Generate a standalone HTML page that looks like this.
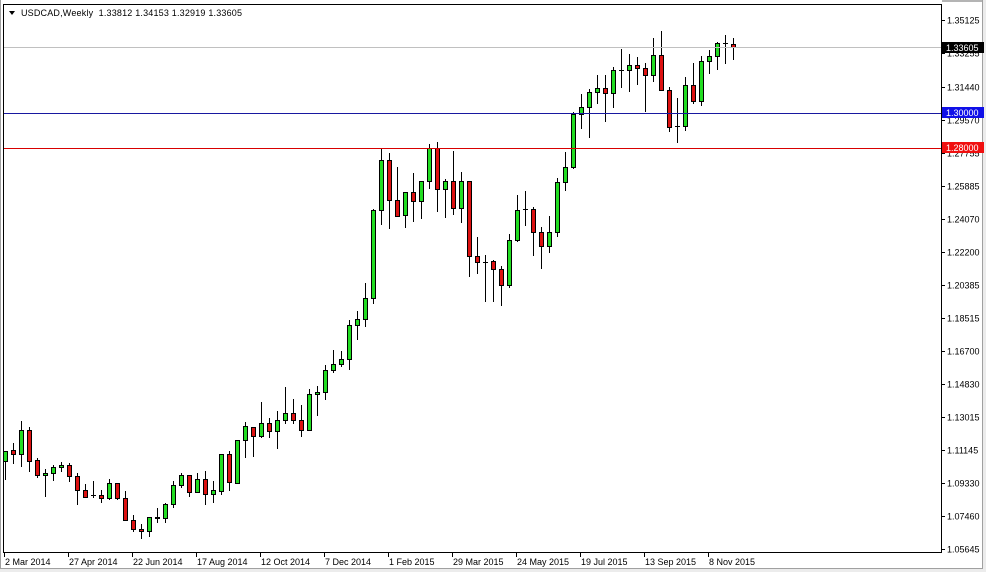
<!DOCTYPE html>
<html><head><meta charset="utf-8"><style>
html,body{margin:0;padding:0;background:#fff;}
svg{display:block;font-family:"Liberation Sans",sans-serif;}
text{font-size:9px;fill:#000;}
</style></head><body>
<svg width="986" height="572" viewBox="0 0 986 572" xmlns="http://www.w3.org/2000/svg">
<rect x="0" y="0" width="986" height="572" fill="#fff"/>
<!-- outer window borders -->
<rect x="0" y="0" width="1" height="572" fill="#a0a0a0"/>
<rect x="942" y="0" width="44" height="2" fill="#b4b4b4"/>
<rect x="982" y="0" width="1" height="569" fill="#a0a0a0"/>
<rect x="983" y="0" width="3" height="572" fill="#ececec"/>
<rect x="0" y="568" width="983" height="1" fill="#a0a0a0"/>
<rect x="0" y="569" width="986" height="3" fill="#ececec"/>

<!-- wicks -->
<path fill="none" stroke="#000" stroke-width="1" d="M5.5 451V480 M13.5 443V464 M21.5 421V467 M29.5 427V472 M37.5 458V478 M45.5 469V497 M53.5 465V481 M61.5 462V472 M69.5 463V482 M77.5 473V505 M85.5 484V498 M93.5 481V498 M101.5 490V503 M109.5 479V500 M117.5 483V500 M125.5 491V520 M133.5 515V532 M141.5 524V539 M149.5 517V537 M157.5 508V523 M165.5 503V523 M173.5 481V508 M181.5 473V488 M189.5 475V497 M197.5 473V493 M205.5 471V505 M213.5 481V503 M221.5 454V495 M229.5 451V491 M237.5 440V483 M245.5 422V458 M253.5 427V457 M261.5 402V438 M269.5 418V438 M277.5 411V449 M285.5 387V424 M293.5 399V424 M301.5 405V437 M309.5 389V430 M317.5 386V416 M325.5 365V400 M333.5 350V373 M341.5 351V367 M349.5 320V370 M357.5 311V340 M365.5 283V327 M373.5 209V304 M381.5 148V225 M389.5 153V229 M397.5 167V217 M405.5 192V228 M413.5 173V222 M421.5 181V219 M429.5 144V189 M437.5 142V212 M445.5 179V218 M453.5 151V215 M461.5 172V223 M469.5 181V277 M477.5 237V274 M485.5 255V302 M493.5 260V302 M501.5 266V306 M509.5 234V288 M517.5 195V242 M525.5 191V226 M533.5 207V256 M541.5 227V269 M549.5 216V253 M557.5 178V237 M565.5 152V191 M573.5 112V169 M581.5 94V129 M589.5 89V138 M597.5 75V104 M605.5 75V122 M613.5 67V108 M621.5 49V88 M629.5 54V92 M637.5 57V85 M645.5 63V112 M653.5 38V82 M661.5 31V90 M669.5 87V132 M677.5 98V143 M685.5 77V131 M693.5 63V104 M701.5 56V106 M709.5 50V74 M717.5 42V70 M725.5 35V64 M733.5 38V60"/>

<!-- green bodies -->
<path fill="#22dd22" stroke="#000" stroke-width="1" d="M3.5 451.5h4v10h-4z M19.5 430.5h4v24h-4z M43.5 473.5h4v2h-4z M51.5 467.5h4v6h-4z M59.5 465.5h4v2h-4z M107.5 483.5h4v15h-4z M147.5 517.5h4v14h-4z M155.5 517.5h4v1h-4z M163.5 504.5h4v14h-4z M171.5 485.5h4v19h-4z M179.5 475.5h4v10h-4z M195.5 479.5h4v13h-4z M211.5 490.5h4v4h-4z M219.5 454.5h4v37h-4z M235.5 440.5h4v43h-4z M243.5 426.5h4v14h-4z M259.5 423.5h4v13h-4z M275.5 420.5h4v11h-4z M283.5 413.5h4v7h-4z M307.5 394.5h4v36h-4z M315.5 392.5h4v2h-4z M323.5 370.5h4v22h-4z M331.5 364.5h4v6h-4z M339.5 359.5h4v5h-4z M347.5 325.5h4v34h-4z M355.5 319.5h4v6h-4z M363.5 298.5h4v21h-4z M371.5 210.5h4v88h-4z M379.5 160.5h4v50h-4z M403.5 192.5h4v23h-4z M419.5 181.5h4v20h-4z M427.5 148.5h4v33h-4z M443.5 181.5h4v8h-4z M459.5 181.5h4v27h-4z M507.5 240.5h4v45h-4z M515.5 210.5h4v30h-4z M547.5 232.5h4v14h-4z M555.5 182.5h4v50h-4z M563.5 167.5h4v15h-4z M571.5 114.5h4v53h-4z M579.5 107.5h4v7h-4z M587.5 92.5h4v15h-4z M595.5 88.5h4v4h-4z M611.5 70.5h4v23h-4z M627.5 65.5h4v5h-4z M651.5 55.5h4v20h-4z M683.5 85.5h4v41h-4z M699.5 61.5h4v40h-4z M707.5 56.5h4v5h-4z M715.5 43.5h4v13h-4z"/>

<!-- red bodies -->
<path fill="#dd1111" stroke="#000" stroke-width="1" d="M11.5 450.5h4v4h-4z M27.5 430.5h4v31h-4z M35.5 460.5h4v15h-4z M67.5 465.5h4v11h-4z M75.5 476.5h4v14h-4z M83.5 490.5h4v7h-4z M99.5 495.5h4v3h-4z M115.5 483.5h4v15h-4z M123.5 498.5h4v22h-4z M131.5 520.5h4v9h-4z M139.5 529.5h4v2h-4z M187.5 475.5h4v17h-4z M203.5 479.5h4v15h-4z M227.5 454.5h4v28h-4z M251.5 427.5h4v9h-4z M267.5 423.5h4v8h-4z M291.5 413.5h4v7h-4z M299.5 420.5h4v10h-4z M387.5 160.5h4v40h-4z M395.5 200.5h4v16h-4z M411.5 192.5h4v9h-4z M435.5 148.5h4v41h-4z M451.5 181.5h4v27h-4z M467.5 181.5h4v75h-4z M475.5 256.5h4v6h-4z M491.5 261.5h4v8h-4z M499.5 269.5h4v16h-4z M531.5 209.5h4v23h-4z M539.5 232.5h4v14h-4z M603.5 88.5h4v5h-4z M635.5 65.5h4v3h-4z M643.5 68.5h4v7h-4z M659.5 55.5h4v35h-4z M667.5 90.5h4v37h-4z M691.5 85.5h4v16h-4z M731.5 44.5h4v3h-4z"/>

<!-- doji -->
<path fill="none" stroke="#000" stroke-width="1" d="M91 495.5h5 M483 262.5h5 M523 209.5h5 M619 70.5h5 M675 126.5h5 M723 43.5h5"/>

<!-- horizontal lines -->
<path fill="none" stroke="#c0c0c0" stroke-width="1" d="M4 47.5H941"/>
<path fill="none" stroke="#1818a0" stroke-width="1" d="M4 113.5H941"/>
<path fill="none" stroke="#d80000" stroke-width="1" d="M4 148.5H941"/>

<!-- frame -->
<path fill="none" stroke="#000" stroke-width="1" d="M3.5 4.5H941.5V552.5H3.5Z"/>

<!-- y axis ticks -->
<path fill="none" stroke="#000" stroke-width="1" d="M941 20.5h4 M941 53.5h4 M941 87.5h4 M941 120.5h4 M941 153.5h4 M941 186.5h4 M941 219.5h4 M941 252.5h4 M941 285.5h4 M941 318.5h4 M941 351.5h4 M941 384.5h4 M941 417.5h4 M941 450.5h4 M941 483.5h4 M941 516.5h4 M941 549.5h4"/>
<g>
<text x="947" y="23.5">1.35125</text>
<text x="947" y="56.5">1.33255</text>
<text x="947" y="90.5">1.31440</text>
<text x="947" y="123.5">1.29570</text>
<text x="947" y="156.5">1.27755</text>
<text x="947" y="189.5">1.25885</text>
<text x="947" y="222.5">1.24070</text>
<text x="947" y="255.5">1.22200</text>
<text x="947" y="288.5">1.20385</text>
<text x="947" y="321.5">1.18515</text>
<text x="947" y="354.5">1.16700</text>
<text x="947" y="387.5">1.14830</text>
<text x="947" y="420.5">1.13015</text>
<text x="947" y="453.5">1.11145</text>
<text x="947" y="486.5">1.09330</text>
<text x="947" y="519.5">1.07460</text>
<text x="947" y="552.5">1.05645</text>
</g>

<!-- price boxes -->
<rect x="942" y="42" width="42" height="11" fill="#000"/>
<text x="946" y="51" style="fill:#fff">1.33605</text>
<rect x="942" y="107" width="42" height="11" fill="#1010e8"/>
<text x="946" y="116" style="fill:#fff">1.30000</text>
<rect x="942" y="142" width="42" height="11" fill="#f01010"/>
<text x="946" y="151" style="fill:#fff">1.28000</text>

<!-- x axis ticks -->
<path fill="none" stroke="#000" stroke-width="1" d="M4.5 553V557 M68.5 553V557 M132.5 553V557 M196.5 553V557 M260.5 553V557 M324.5 553V557 M388.5 553V557 M452.5 553V557 M516.5 553V557 M580.5 553V557 M644.5 553V557 M708.5 553V557"/>
<g>
<text x="5" y="565">2 Mar 2014</text>
<text x="69" y="565">27 Apr 2014</text>
<text x="133" y="565">22 Jun 2014</text>
<text x="197" y="565">17 Aug 2014</text>
<text x="261" y="565">12 Oct 2014</text>
<text x="325" y="565">7 Dec 2014</text>
<text x="389" y="565">1 Feb 2015</text>
<text x="453" y="565">29 Mar 2015</text>
<text x="517" y="565">24 May 2015</text>
<text x="581" y="565">19 Jul 2015</text>
<text x="645" y="565">13 Sep 2015</text>
<text x="709" y="565">8 Nov 2015</text>
</g>

<!-- header -->
<polygon points="9,11 15,11 12,15" fill="#000"/>
<text x="21" y="16" textLength="221" lengthAdjust="spacing" style="white-space:pre" xml:space="preserve">USDCAD,Weekly  1.33812 1.34153 1.32919 1.33605</text>
</svg>
</body></html>
